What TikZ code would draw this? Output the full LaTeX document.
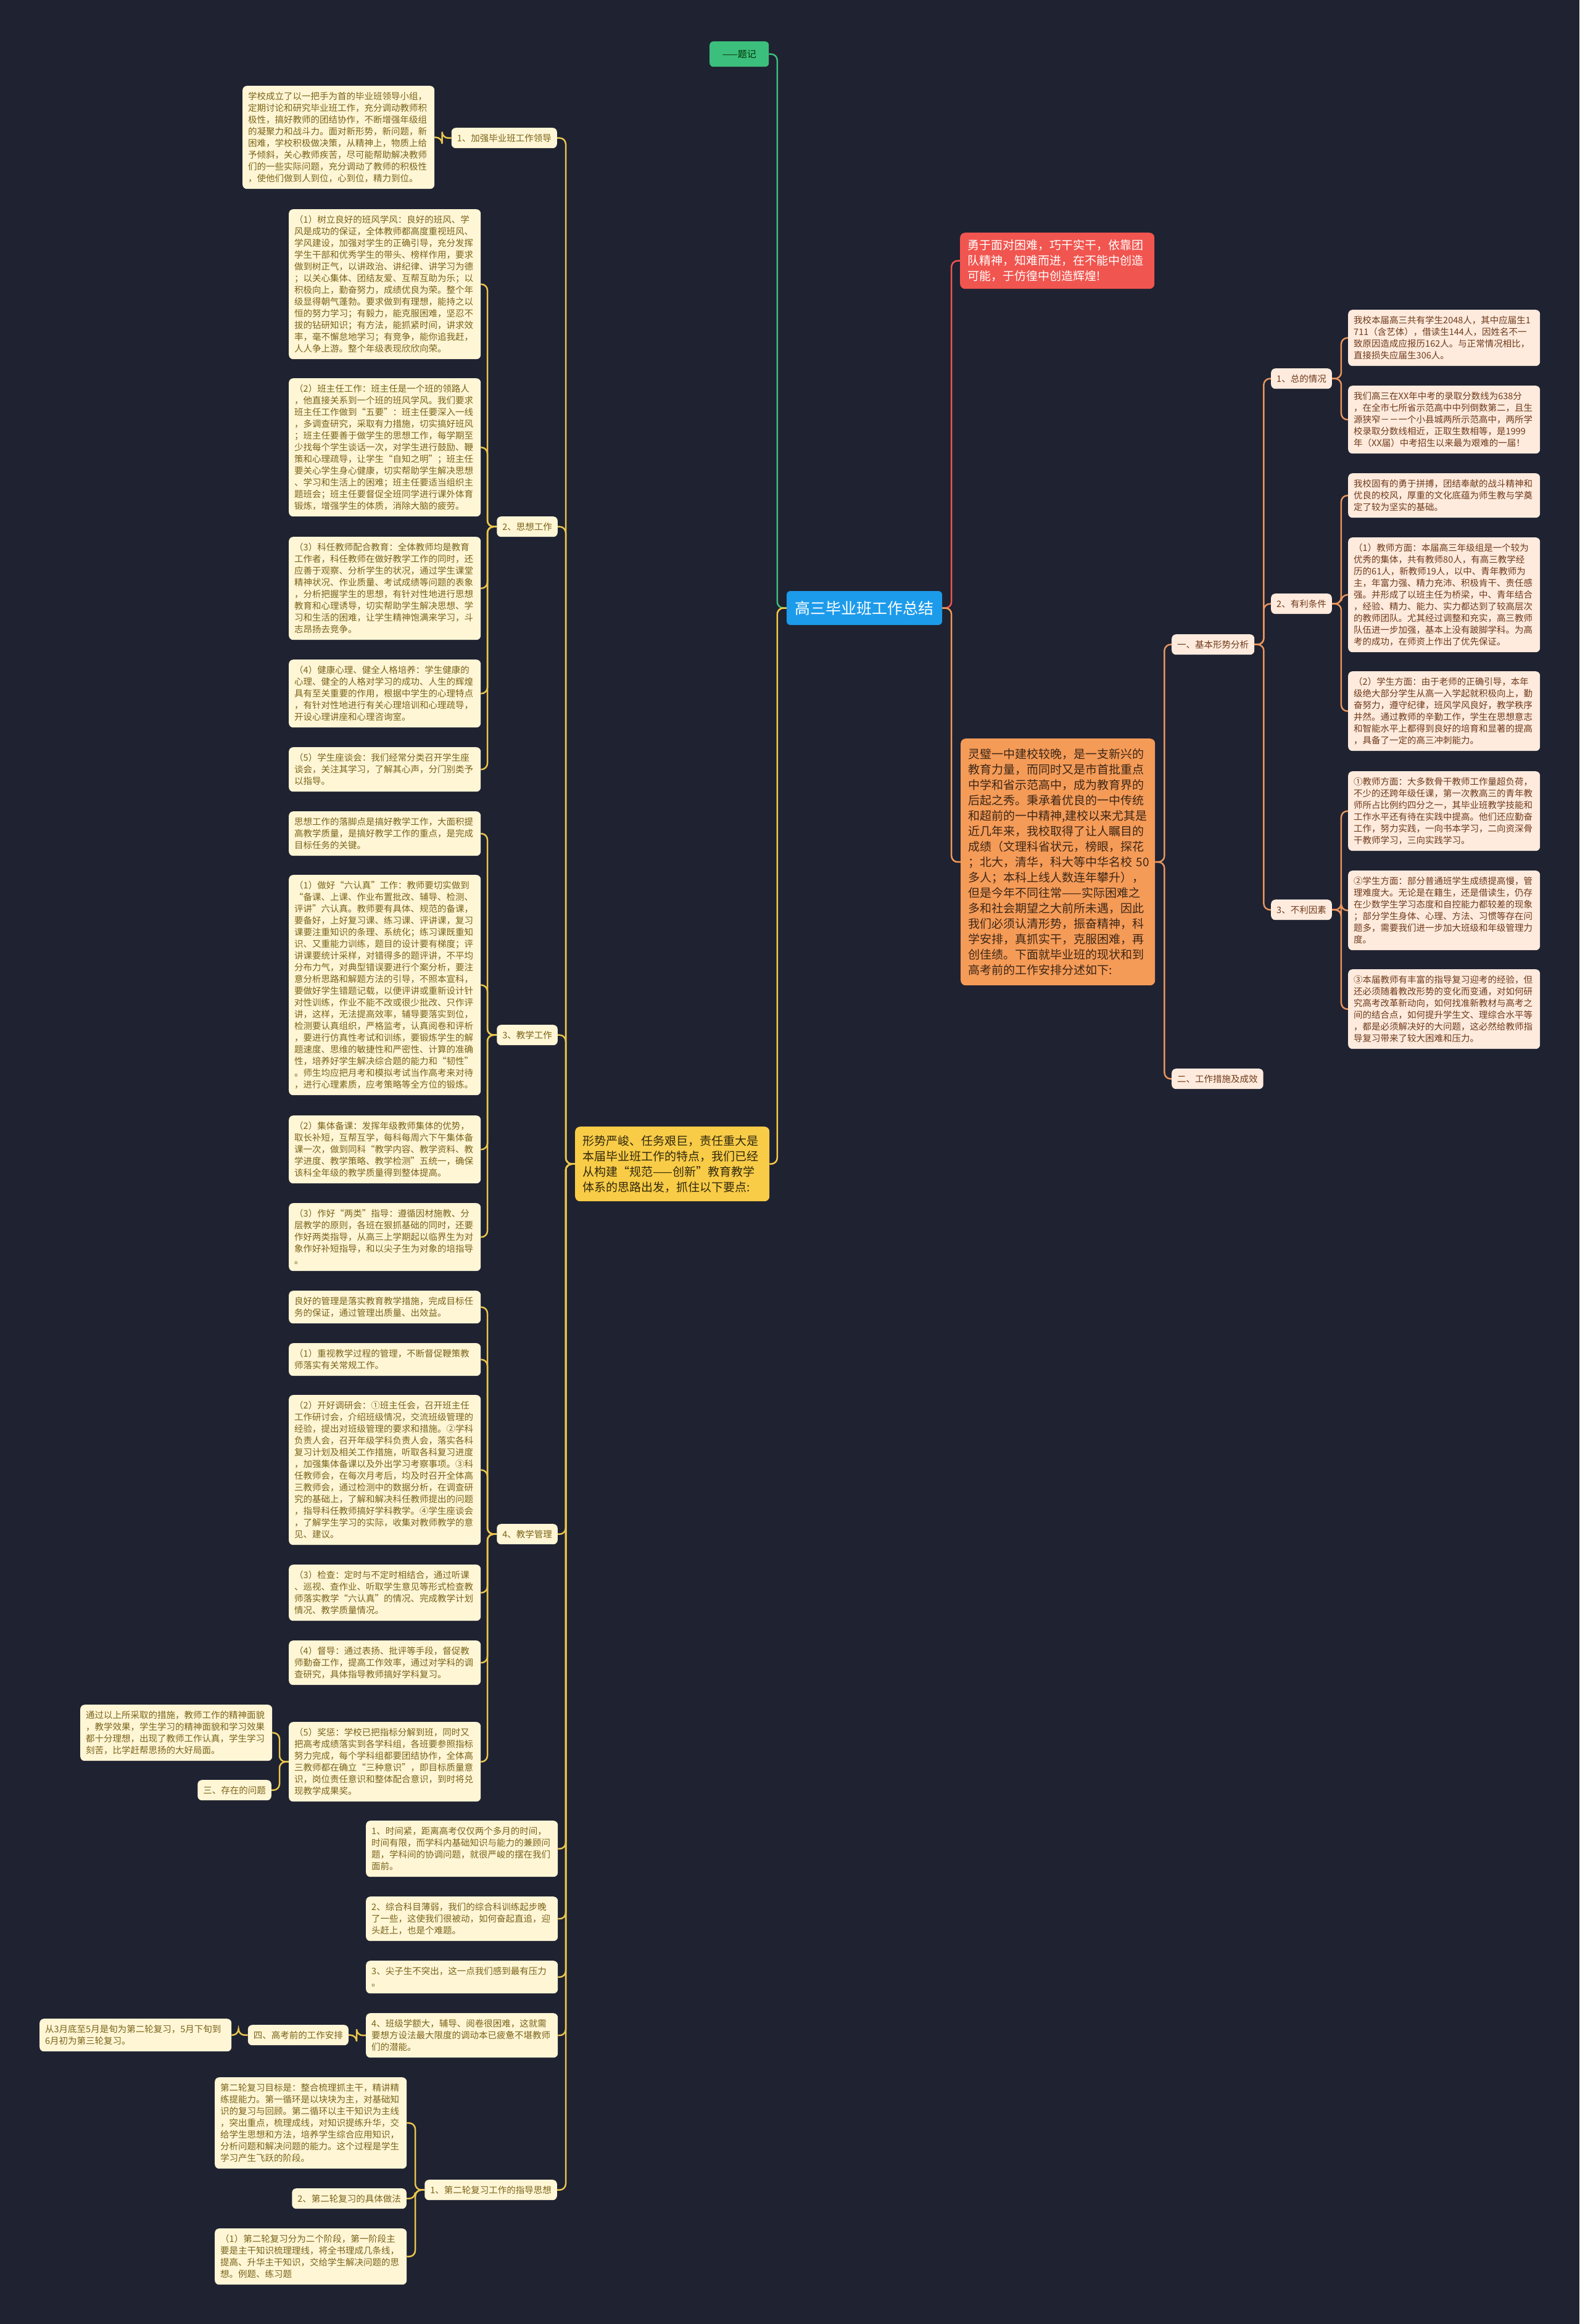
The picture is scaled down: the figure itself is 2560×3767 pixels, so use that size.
\documentclass[tikz,border=0pt]{standalone}
\usepackage{fontspec}
\newfontfamily\cjk{Noto Sans CJK SC}
\pgfdeclarelayer{back}\pgfdeclarelayer{mid}\pgfsetlayers{back,mid,main}
\definecolor{bgc}{HTML}{1F2231}
\definecolor{lfill}{HTML}{FFF6D6}
\definecolor{ltext}{HTML}{7A6419}
\definecolor{llinec}{HTML}{E9C64D}
\definecolor{rfill}{HTML}{FEEBDD}
\definecolor{rtext}{HTML}{6F3A1C}
\definecolor{rlinec}{HTML}{E8955E}
\definecolor{redc}{HTML}{F1554F}
\definecolor{orc}{HTML}{F59B58}
\definecolor{yelc}{HTML}{F8CC47}
\definecolor{bluec}{HTML}{1D9BEB}
\definecolor{greenc}{HTML}{3CBF7D}
\tikzset{
  nl/.style={minimum height=19*#1+15},
  lleaf/.style={fill=lfill, text=ltext, rounded corners=7pt, font=\cjk\fontsize{14.5}{19}\selectfont, text width=293pt, inner xsep=9pt, inner ysep=0pt, align=left, anchor=north west},
  rleaf/.style={lleaf, fill=rfill, text=rtext},
  llab/.style={fill=lfill, text=ltext, rounded corners=7pt, font=\cjk\fontsize{14.5}{19}\selectfont, inner xsep=9pt, inner ysep=0pt, minimum height=33pt, anchor=north east},
  rlab/.style={llab, fill=rfill, text=rtext, anchor=north west},
  bignode/.style={rounded corners=8pt, font=\cjk\fontsize{19}{25}\selectfont, text width=291pt, inner xsep=12pt, inner ysep=0pt, align=left, anchor=north west},
  conn/.style={draw=#1, line width=2.5pt, rounded corners=10pt},
}
\newcommand\lft[3]{\draw[conn=#1] (#2.west) -- ++(-15,0) |- (#3.east);}
\newcommand\rgt[3]{\draw[conn=#1] (#2.east) -- ++(15,0) |- (#3.west);}
\begin{document}
\begin{tikzpicture}[x=1pt,y=-1pt]
\begin{pgfonlayer}{back}
\fill[bgc] (0,0) rectangle (2560,3767);
\end{pgfonlayer}
\useasboundingbox (0,0) rectangle (2560,3767);

% centre
\node[fill=bluec, text=white, font=\cjk\fontsize{25}{30}\selectfont, minimum width=252pt, minimum height=55pt, rounded corners=6pt, inner sep=0pt] (R) at (1401,985.5) {高三毕业班工作总结};
\node[fill=greenc, text=black!80!green, font=\cjk\fontsize{15}{18}\selectfont, minimum width=96pt, minimum height=41pt, rounded corners=6pt, inner sep=0pt, anchor=north west] (T) at (1150,67) {——题记};
\node[bignode, fill=redc, text=white, minimum height=91pt] (RD) at (1556,377) {勇于面对困难，巧干实干，依靠团\\队精神，知难而进，在不能中创造\\可能，于仿徨中创造辉煌!};
\node[bignode, fill=orc, text=black!75!orc, minimum height=400pt] (O) at (1557,1197) {灵璧一中建校较晚，是一支新兴的\\教育力量，而同时又是市首批重点\\中学和省示范高中，成为教育界的\\后起之秀。秉承着优良的一中传统\\和超前的一中精神,建校以来尤其是\\近几年来，我校取得了让人瞩目的\\成绩（文理科省状元，榜眼，探花\\；北大，清华，科大等中华名校\mbox{ }50\\多人；本科上线人数连年攀升），\\但是今年不同往常——实际困难之\\多和社会期望之大前所未遇，因此\\我们必须认清形势，振奋精神，科\\学安排，真抓实干，克服困难，再\\创佳绩。下面就毕业班的现状和到\\高考前的工作安排分述如下:};
\node[bignode, fill=yelc, text=black!80!yelc, minimum height=121pt] (Y) at (932,1826) {形势严峻、任务艰巨，责任重大是\\本届毕业班工作的特点，我们已经\\从构建“规范——创新”教育教学\\体系的思路出发，抓住以下要点:};

% left labels
\node[llab] (L1) at (903,207) {1、加强毕业班工作领导};
\node[llab] (L2) at (904,837) {2、思想工作};
\node[llab] (L3) at (904,1661) {3、教学工作};
\node[llab] (L4) at (904,2470) {4、教学管理};
\node[llab] (E3) at (440,2885) {三、存在的问题};
\node[llab] (E4) at (565,3282) {四、高考前的工作安排};
\node[llab] (S1) at (903,3533) {1、第二轮复习工作的指导思想};
\node[llab] (S2) at (659,3547) {2、第二轮复习的具体做法};

% left leaves
\node[lleaf,nl=8] (A) at (393,139) {学校成立了以一把手为首的毕业班领导小组，\\定期讨论和研究毕业班工作，充分调动教师积\\极性，搞好教师的团结协作，不断增强年级组\\的凝聚力和战斗力。面对新形势，新问题，新\\困难，学校积极做决策，从精神上，物质上给\\予倾斜，关心教师疾苦，尽可能帮助解决教师\\们的一些实际问题，充分调动了教师的积极性\\，使他们做到人到位，心到位，精力到位。};
\node[lleaf,nl=12] (B) at (468,339) {（1）树立良好的班风学风：良好的班风、学\\风是成功的保证，全体教师都高度重视班风、\\学风建设，加强对学生的正确引导，充分发挥\\学生干部和优秀学生的带头、榜样作用，要求\\做到树正气，以讲政治、讲纪律、讲学习为德\\；以关心集体、团结友爱、互帮互助为乐；以\\积极向上，勤奋努力，成绩优良为荣。整个年\\级显得朝气蓬勃。要求做到有理想，能持之以\\恒的努力学习；有毅力，能克服困难，坚忍不\\拔的钻研知识；有方法，能抓紧时间，讲求效\\率，毫不懈怠地学习；有竞争，能你追我赶，\\人人争上游。整个年级表现欣欣向荣。};
\node[lleaf,nl=11] (C) at (468,613) {（2）班主任工作：班主任是一个班的领路人\\，他直接关系到一个班的班风学风。我们要求\\班主任工作做到“五要”：班主任要深入一线\\，多调查研究，采取有力措施，切实搞好班风\\；班主任要善于做学生的思想工作，每学期至\\少找每个学生谈话一次，对学生进行鼓励、鞭\\策和心理疏导，让学生“自知之明”；班主任\\要关心学生身心健康，切实帮助学生解决思想\\、学习和生活上的困难；班主任要适当组织主\\题班会；班主任要督促全班同学进行课外体育\\锻炼，增强学生的体质，消除大脑的疲劳。};
\node[lleaf,nl=8] (D) at (468,870) {（3）科任教师配合教育：全体教师均是教育\\工作者，科任教师在做好教学工作的同时，还\\应善于观察、分析学生的状况，通过学生课堂\\精神状况、作业质量、考试成绩等问题的表象\\，分析把握学生的思想，有针对性地进行思想\\教育和心理诱导，切实帮助学生解决思想、学\\习和生活的困难，让学生精神饱满来学习，斗\\志昂扬去竞争。};
\node[lleaf,nl=5] (E) at (468,1069) {（4）健康心理、健全人格培养：学生健康的\\心理、健全的人格对学习的成功、人生的辉煌\\具有至关重要的作用，根据中学生的心理特点\\，有针对性地进行有关心理培训和心理疏导，\\开设心理讲座和心理咨询室。};
\node[lleaf,nl=3] (F) at (468,1211) {（5）学生座谈会：我们经常分类召开学生座\\谈会，关注其学习，了解其心声，分门别类予\\以指导。};
\node[lleaf,nl=3] (G) at (468,1315) {思想工作的落脚点是搞好教学工作，大面积提\\高教学质量，是搞好教学工作的重点，是完成\\目标任务的关键。};
\node[lleaf,nl=18] (H) at (468,1418) {（1）做好“六认真”工作：教师要切实做到\\“备课、上课、作业布置批改、辅导、检测、\\评讲”六认真。教师要有具体、规范的备课，\\要备好，上好复习课、练习课、评讲课，复习\\课要注重知识的条理、系统化；练习课既重知\\识、又重能力训练，题目的设计要有梯度；评\\讲课要统计采样，对错得多的题评讲，不平均\\分布力气，对典型错误要进行个案分析，要注\\意分析思路和解题方法的引导，不照本宣科，\\要做好学生错题记载，以便评讲或重新设计针\\对性训练，作业不能不改或很少批改、只作评\\讲，这样，无法提高效率，辅导要落实到位，\\检测要认真组织，严格监考，认真阅卷和评析\\，要进行仿真性考试和训练，要锻炼学生的解\\题速度、思维的敏捷性和严密性、计算的准确\\性，培养好学生解决综合题的能力和“韧性”\\。师生均应把月考和模拟考试当作高考来对待\\，进行心理素质，应考策略等全方位的锻炼。};
\node[lleaf,nl=5] (I) at (468,1808) {（2）集体备课：发挥年级教师集体的优势，\\取长补短，互帮互学，每科每周六下午集体备\\课一次，做到同科“教学内容、教学资料、教\\学进度、教学策略、教学检测”五统一，确保\\该科全年级的教学质量得到整体提高。};
\node[lleaf,nl=5] (J) at (468,1950) {（3）作好“两类”指导：遵循因材施教、分\\层教学的原则，各班在狠抓基础的同时，还要\\作好两类指导，从高三上学期起以临界生为对\\象作好补短指导，和以尖子生为对象的培指导\\。};
\node[lleaf,nl=2] (K) at (468,2092) {良好的管理是落实教育教学措施，完成目标任\\务的保证，通过管理出质量、出效益。};
\node[lleaf,nl=2] (L) at (468,2177) {（1）重视教学过程的管理，不断督促鞭策教\\师落实有关常规工作。};
\node[lleaf,nl=12] (M) at (468,2261) {（2）开好调研会：①班主任会，召开班主任\\工作研讨会，介绍班级情况，交流班级管理的\\经验，提出对班级管理的要求和措施。②学科\\负责人会，召开年级学科负责人会，落实各科\\复习计划及相关工作措施，听取各科复习进度\\，加强集体备课以及外出学习考察事项。③科\\任教师会，在每次月考后，均及时召开全体高\\三教师会，通过检测中的数据分析，在调查研\\究的基础上，了解和解决科任教师提出的问题\\，指导科任教师搞好学科教学。④学生座谈会\\，了解学生学习的实际，收集对教师教学的意\\见、建议。};
\node[lleaf,nl=4] (N) at (468,2536) {（3）检查：定时与不定时相结合，通过听课\\、巡视、查作业、听取学生意见等形式检查教\\师落实教学“六认真”的情况、完成教学计划\\情况、教学质量情况。};
\node[lleaf,nl=3] (OO) at (468,2659) {（4）督导：通过表扬、批评等手段，督促教\\师勤奋工作，提高工作效率，通过对学科的调\\查研究，具体指导教师搞好学科复习。};
\node[lleaf,nl=6] (P) at (468,2791) {（5）奖惩：学校已把指标分解到班，同时又\\把高考成绩落实到各学科组，各班要参照指标\\努力完成，每个学科组都要团结协作，全体高\\三教师都在确立“三种意识”，即目标质量意\\识，岗位责任意识和整体配合意识，到时将兑\\现教学成果奖。};
\node[lleaf,nl=4] (Q) at (130,2763) {通过以上所采取的措施，教师工作的精神面貌\\，教学效果，学生学习的精神面貌和学习效果\\都十分理想，出现了教师工作认真，学生学习\\刻苦，比学赶帮思扬的大好局面。};
\node[lleaf,nl=4] (Z1) at (593,2951) {1、时间紧，距离高考仅仅两个多月的时间，\\时间有限，而学科内基础知识与能力的兼顾问\\题，学科间的协调问题，就很严峻的摆在我们\\面前。};
\node[lleaf,nl=3] (Z2) at (593,3074) {2、综合科目薄弱，我们的综合科训练起步晚\\了一些，这使我们很被动，如何奋起直追，迎\\头赶上，也是个难题。};
\node[lleaf,nl=2] (Z3) at (593,3178) {3、尖子生不突出，这一点我们感到最有压力\\。};
\node[lleaf,nl=3] (Z4) at (593,3263) {4、班级学额大，辅导、阅卷很困难，这就需\\要想方设法最大限度的调动本已疲惫不堪教师\\们的潜能。};
\node[lleaf,nl=2] (W) at (64,3272) {从3月底至5月是旬为第二轮复习，5月下旬到\\6月初为第三轮复习。};
\node[lleaf,nl=7] (Sa) at (348,3367) {第二轮复习目标是：整合梳理抓主干，精讲精\\练提能力。第一循环是以块块为主，对基础知\\识的复习与回顾。第二循环以主干知识为主线\\，突出重点，梳理成线，对知识提练升华，交\\给学生思想和方法，培养学生综合应用知识，\\分析问题和解决问题的能力。这个过程是学生\\学习产生飞跃的阶段。};
\node[lleaf,nl=4] (Sc) at (348,3612) {（1）第二轮复习分为二个阶段，第一阶段主\\要是主干知识梳理理线，将全书理成几条线，\\提高、升华主干知识，交给学生解决问题的思\\想。例题、练习题};

% right labels
\node[rlab] (RA) at (1899,1028) {一、基本形势分析};
\node[rlab] (RB) at (1899,1732) {二、工作措施及成效};
\node[rlab] (RA1) at (2060,597) {1、总的情况};
\node[rlab] (RA2) at (2060,962) {2、有利条件};
\node[rlab] (RA3) at (2060,1458) {3、不利因素};

% right leaves
\node[rleaf,nl=4] (R1) at (2185,502) {我校本届高三共有学生2048人，其中应届生1\\711（含艺体），借读生144人，因姓名不一\\致原因造成应报历162人。与正常情况相比，\\直接损失应届生306人。};
\node[rleaf,nl=5] (R2) at (2185,625) {我们高三在XX年中考的录取分数线为638分\\，在全市七所省示范高中中列倒数第二，且生\\源狭窄－－一个小县城两所示范高中，两所学\\校录取分数线相近，正取生数相等，是1999\\年（XX届）中考招生以来最为艰难的一届！};
\node[rleaf,nl=3] (R3) at (2185,767) {我校固有的勇于拼搏，团结奉献的战斗精神和\\优良的校风，厚重的文化底蕴为师生教与学奠\\定了较为坚实的基础。};
\node[rleaf,nl=9] (R4) at (2185,871) {（1）教师方面：本届高三年级组是一个较为\\优秀的集体，共有教师80人，有高三教学经\\历的61人，新教师19人，以中、青年教师为\\主，年富力强、精力充沛、积极肯干、责任感\\强。并形成了以班主任为桥梁，中、青年结合\\，经验、精力、能力、实力都达到了较高层次\\的教师团队。尤其经过调整和充实，高三教师\\队伍进一步加强，基本上没有跛脚学科。为高\\考的成功，在师资上作出了优先保证。};
\node[rleaf,nl=6] (R5) at (2185,1088) {（2）学生方面：由于老师的正确引导，本年\\级绝大部分学生从高一入学起就积极向上，勤\\奋努力，遵守纪律，班风学风良好，教学秩序\\井然。通过教师的辛勤工作，学生在思想意志\\和智能水平上都得到良好的培育和显著的提高\\，具备了一定的高三冲刺能力。};
\node[rleaf,nl=6] (R6) at (2185,1250) {①教师方面：大多数骨干教师工作量超负荷，\\不少的还跨年级任课，第一次教高三的青年教\\师所占比例约四分之一，其毕业班教学技能和\\工作水平还有待在实践中提高。他们还应勤奋\\工作，努力实践，一向书本学习，二向资深骨\\干教师学习，三向实践学习。};
\node[rleaf,nl=6] (R7) at (2185,1411) {②学生方面：部分普通班学生成绩提高慢，管\\理难度大。无论是在籍生，还是借读生，仍存\\在少数学生学习态度和自控能力都较差的现象\\；部分学生身体、心理、方法、习惯等存在问\\题多，需要我们进一步加大班级和年级管理力\\度。};
\node[rleaf,nl=6] (R8) at (2185,1571) {③本届教师有丰富的指导复习迎考的经验，但\\还必须随着教改形势的变化而变通，对如何研\\究高考改革新动向，如何找准新教材与高考之\\间的结合点，如何提升学生文、理综合水平等\\，都是必须解决好的大问题，这必然给教师指\\导复习带来了较大困难和压力。};

% connectors
\begin{pgfonlayer}{mid}
\lft{greenc}{R}{T}
\lft{yelc}{R}{Y}
\rgt{redc}{R}{RD}
\rgt{orc}{R}{O}
\foreach \c in {L1,L2,L3,L4,Z1,Z2,Z3,Z4,S1} {\lft{llinec}{Y}{\c}}
\lft{llinec}{L1}{A}
\foreach \c in {B,C,D,E,F} {\lft{llinec}{L2}{\c}}
\foreach \c in {G,H,I,J} {\lft{llinec}{L3}{\c}}
\foreach \c in {K,L,M,N,OO,P} {\lft{llinec}{L4}{\c}}
\foreach \c in {Q,E3} {\lft{llinec}{P}{\c}}
\lft{llinec}{Z4}{E4}
\lft{llinec}{E4}{W}
\foreach \c in {Sa,S2,Sc} {\lft{llinec}{S1}{\c}}
\foreach \c in {RA,RB} {\rgt{rlinec}{O}{\c}}
\foreach \c in {RA1,RA2,RA3} {\rgt{rlinec}{RA}{\c}}
\foreach \c in {R1,R2} {\rgt{rlinec}{RA1}{\c}}
\foreach \c in {R3,R4,R5} {\rgt{rlinec}{RA2}{\c}}
\foreach \c in {R6,R7,R8} {\rgt{rlinec}{RA3}{\c}}
\end{pgfonlayer}
\end{tikzpicture}
\end{document}
